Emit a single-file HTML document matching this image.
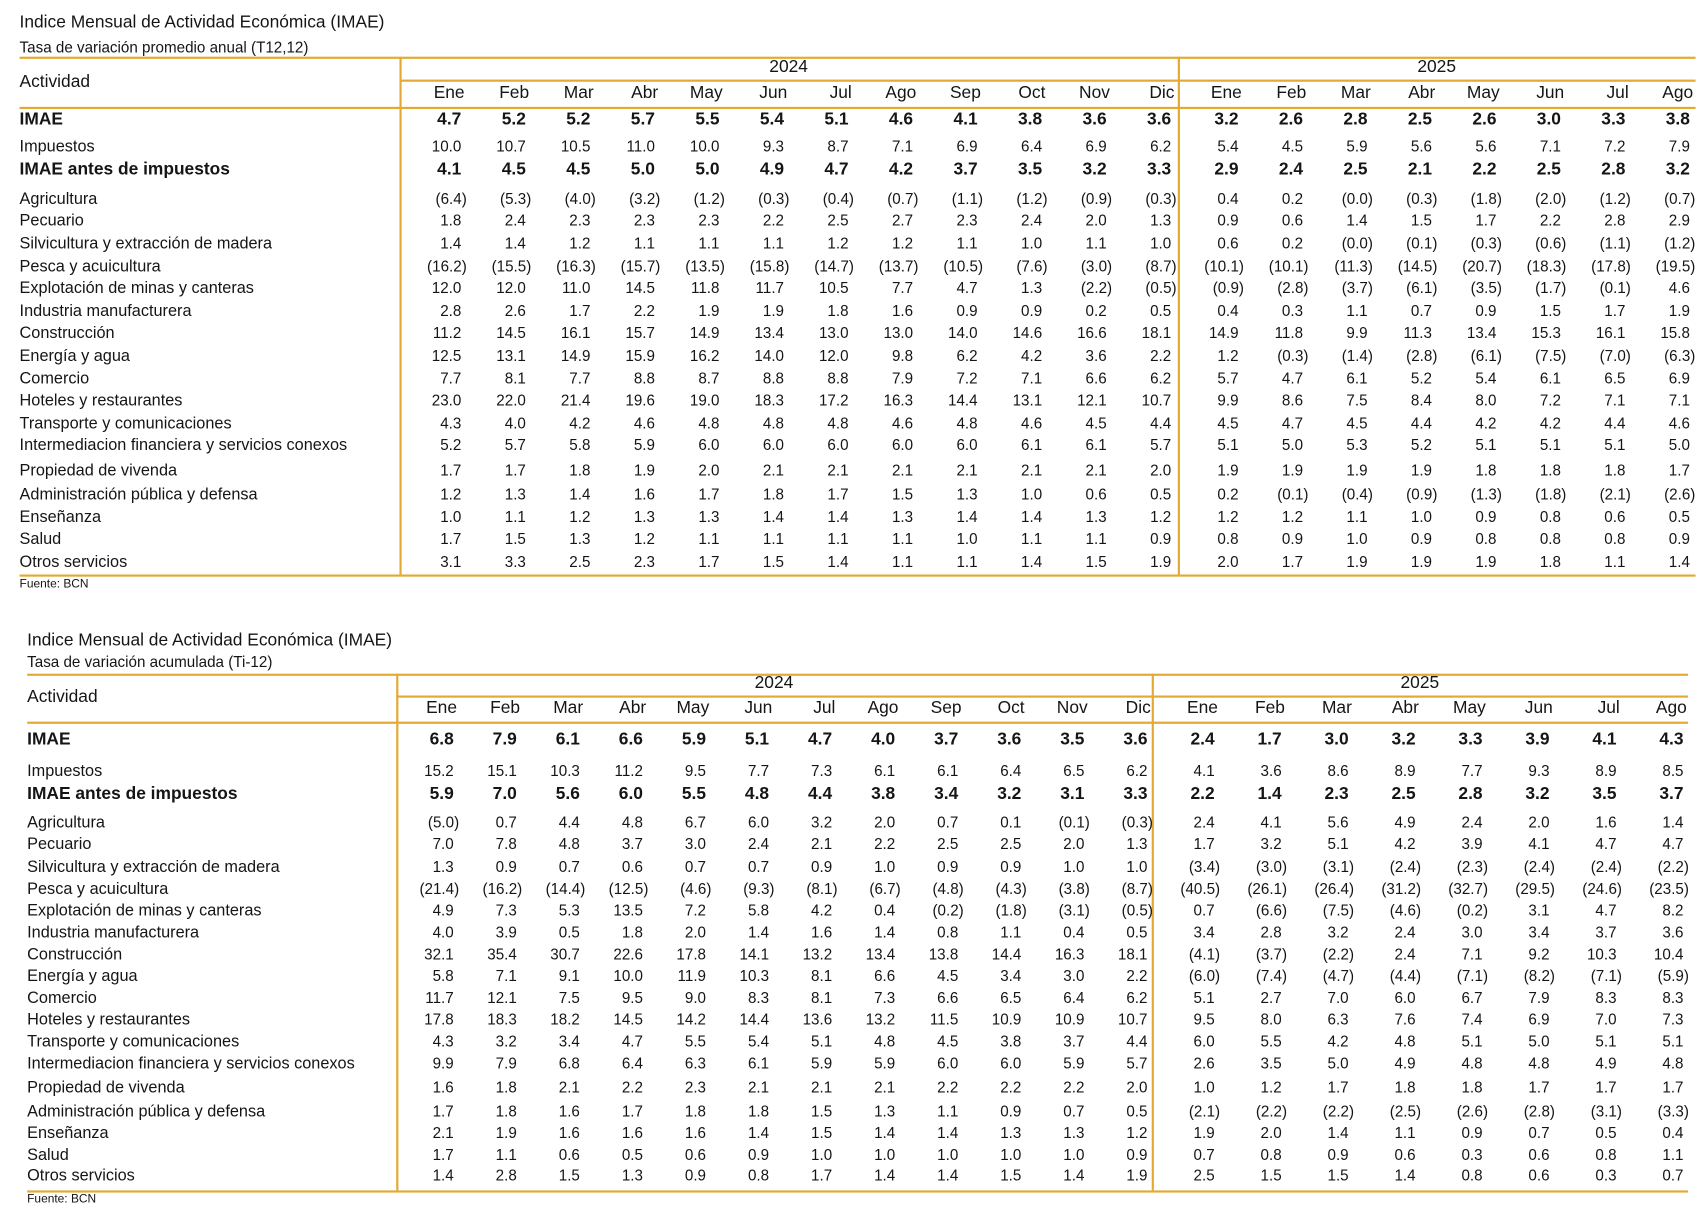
<!DOCTYPE html>
<html><head><meta charset="utf-8">
<style>
html,body{margin:0;padding:0;background:#fff;}
body{width:1702px;height:1210px;overflow:hidden;position:relative;}
#w{position:absolute;left:0;top:0;width:1568px;height:1110px;transform-origin:0 0;transform:scale(1.0855,1.0901);font-family:"Liberation Sans",sans-serif;color:#151515;}
.t{position:absolute;white-space:nowrap;line-height:1;}
.h{position:absolute;background:#E3AA33;height:1.5px;}
.v{position:absolute;background:#E3AA33;width:1.5px;}
</style></head><body><div id="w"></div>
<script>
var W=document.getElementById('w');
function T(txt,x,y,fs,opt){opt=opt||{};var d=document.createElement('div');d.className='t';d.textContent=txt;d.style.fontSize=fs+'px';d.style.top=(y-fs*0.55)+'px';
if(opt.r!==undefined){d.style.right=(1568-opt.r)+'px';}else if(opt.c!==undefined){d.style.left=(opt.c-200)+'px';d.style.width='400px';d.style.textAlign='center';}else d.style.left=x+'px';
if(opt.b)d.style.fontWeight='bold';W.appendChild(d);}
function H(x1,x2,y){var d=document.createElement('div');d.className='h';d.style.left=x1+'px';d.style.width=(x2-x1)+'px';d.style.top=y+'px';W.appendChild(d);}
function V(x,y1,y2){var d=document.createElement('div');d.className='v';d.style.left=x+'px';d.style.top=y1+'px';d.style.height=(y2-y1)+'px';W.appendChild(d);}
var labels=["IMAE","Impuestos","IMAE antes de impuestos","Agricultura","Pecuario","Silvicultura y extracción de madera","Pesca y acuicultura","Explotación de minas y canteras","Industria manufacturera","Construcción","Energía y agua","Comercio","Hoteles y restaurantes","Transporte y comunicaciones","Intermediacion financiera y servicios conexos","Propiedad de vivenda","Administración pública y defensa","Enseñanza","Salud","Otros servicios"];
var months=["Ene","Feb","Mar","Abr","May","Jun","Jul","Ago","Sep","Oct","Nov","Dic","Ene","Feb","Mar","Abr","May","Jun","Jul","Ago"];
var d1=`4.7 5.2 5.2 5.7 5.5 5.4 5.1 4.6 4.1 3.8 3.6 3.6 3.2 2.6 2.8 2.5 2.6 3.0 3.3 3.8
10.0 10.7 10.5 11.0 10.0 9.3 8.7 7.1 6.9 6.4 6.9 6.2 5.4 4.5 5.9 5.6 5.6 7.1 7.2 7.9
4.1 4.5 4.5 5.0 5.0 4.9 4.7 4.2 3.7 3.5 3.2 3.3 2.9 2.4 2.5 2.1 2.2 2.5 2.8 3.2
(6.4) (5.3) (4.0) (3.2) (1.2) (0.3) (0.4) (0.7) (1.1) (1.2) (0.9) (0.3) 0.4 0.2 (0.0) (0.3) (1.8) (2.0) (1.2) (0.7)
1.8 2.4 2.3 2.3 2.3 2.2 2.5 2.7 2.3 2.4 2.0 1.3 0.9 0.6 1.4 1.5 1.7 2.2 2.8 2.9
1.4 1.4 1.2 1.1 1.1 1.1 1.2 1.2 1.1 1.0 1.1 1.0 0.6 0.2 (0.0) (0.1) (0.3) (0.6) (1.1) (1.2)
(16.2) (15.5) (16.3) (15.7) (13.5) (15.8) (14.7) (13.7) (10.5) (7.6) (3.0) (8.7) (10.1) (10.1) (11.3) (14.5) (20.7) (18.3) (17.8) (19.5)
12.0 12.0 11.0 14.5 11.8 11.7 10.5 7.7 4.7 1.3 (2.2) (0.5) (0.9) (2.8) (3.7) (6.1) (3.5) (1.7) (0.1) 4.6
2.8 2.6 1.7 2.2 1.9 1.9 1.8 1.6 0.9 0.9 0.2 0.5 0.4 0.3 1.1 0.7 0.9 1.5 1.7 1.9
11.2 14.5 16.1 15.7 14.9 13.4 13.0 13.0 14.0 14.6 16.6 18.1 14.9 11.8 9.9 11.3 13.4 15.3 16.1 15.8
12.5 13.1 14.9 15.9 16.2 14.0 12.0 9.8 6.2 4.2 3.6 2.2 1.2 (0.3) (1.4) (2.8) (6.1) (7.5) (7.0) (6.3)
7.7 8.1 7.7 8.8 8.7 8.8 8.8 7.9 7.2 7.1 6.6 6.2 5.7 4.7 6.1 5.2 5.4 6.1 6.5 6.9
23.0 22.0 21.4 19.6 19.0 18.3 17.2 16.3 14.4 13.1 12.1 10.7 9.9 8.6 7.5 8.4 8.0 7.2 7.1 7.1
4.3 4.0 4.2 4.6 4.8 4.8 4.8 4.6 4.8 4.6 4.5 4.4 4.5 4.7 4.5 4.4 4.2 4.2 4.4 4.6
5.2 5.7 5.8 5.9 6.0 6.0 6.0 6.0 6.0 6.1 6.1 5.7 5.1 5.0 5.3 5.2 5.1 5.1 5.1 5.0
1.7 1.7 1.8 1.9 2.0 2.1 2.1 2.1 2.1 2.1 2.1 2.0 1.9 1.9 1.9 1.9 1.8 1.8 1.8 1.7
1.2 1.3 1.4 1.6 1.7 1.8 1.7 1.5 1.3 1.0 0.6 0.5 0.2 (0.1) (0.4) (0.9) (1.3) (1.8) (2.1) (2.6)
1.0 1.1 1.2 1.3 1.3 1.4 1.4 1.3 1.4 1.4 1.3 1.2 1.2 1.2 1.1 1.0 0.9 0.8 0.6 0.5
1.7 1.5 1.3 1.2 1.1 1.1 1.1 1.1 1.0 1.1 1.1 0.9 0.8 0.9 1.0 0.9 0.8 0.8 0.8 0.9
3.1 3.3 2.5 2.3 1.7 1.5 1.4 1.1 1.1 1.4 1.5 1.9 2.0 1.7 1.9 1.9 1.9 1.8 1.1 1.4`;
var d2=`6.8 7.9 6.1 6.6 5.9 5.1 4.7 4.0 3.7 3.6 3.5 3.6 2.4 1.7 3.0 3.2 3.3 3.9 4.1 4.3
15.2 15.1 10.3 11.2 9.5 7.7 7.3 6.1 6.1 6.4 6.5 6.2 4.1 3.6 8.6 8.9 7.7 9.3 8.9 8.5
5.9 7.0 5.6 6.0 5.5 4.8 4.4 3.8 3.4 3.2 3.1 3.3 2.2 1.4 2.3 2.5 2.8 3.2 3.5 3.7
(5.0) 0.7 4.4 4.8 6.7 6.0 3.2 2.0 0.7 0.1 (0.1) (0.3) 2.4 4.1 5.6 4.9 2.4 2.0 1.6 1.4
7.0 7.8 4.8 3.7 3.0 2.4 2.1 2.2 2.5 2.5 2.0 1.3 1.7 3.2 5.1 4.2 3.9 4.1 4.7 4.7
1.3 0.9 0.7 0.6 0.7 0.7 0.9 1.0 0.9 0.9 1.0 1.0 (3.4) (3.0) (3.1) (2.4) (2.3) (2.4) (2.4) (2.2)
(21.4) (16.2) (14.4) (12.5) (4.6) (9.3) (8.1) (6.7) (4.8) (4.3) (3.8) (8.7) (40.5) (26.1) (26.4) (31.2) (32.7) (29.5) (24.6) (23.5)
4.9 7.3 5.3 13.5 7.2 5.8 4.2 0.4 (0.2) (1.8) (3.1) (0.5) 0.7 (6.6) (7.5) (4.6) (0.2) 3.1 4.7 8.2
4.0 3.9 0.5 1.8 2.0 1.4 1.6 1.4 0.8 1.1 0.4 0.5 3.4 2.8 3.2 2.4 3.0 3.4 3.7 3.6
32.1 35.4 30.7 22.6 17.8 14.1 13.2 13.4 13.8 14.4 16.3 18.1 (4.1) (3.7) (2.2) 2.4 7.1 9.2 10.3 10.4
5.8 7.1 9.1 10.0 11.9 10.3 8.1 6.6 4.5 3.4 3.0 2.2 (6.0) (7.4) (4.7) (4.4) (7.1) (8.2) (7.1) (5.9)
11.7 12.1 7.5 9.5 9.0 8.3 8.1 7.3 6.6 6.5 6.4 6.2 5.1 2.7 7.0 6.0 6.7 7.9 8.3 8.3
17.8 18.3 18.2 14.5 14.2 14.4 13.6 13.2 11.5 10.9 10.9 10.7 9.5 8.0 6.3 7.6 7.4 6.9 7.0 7.3
4.3 3.2 3.4 4.7 5.5 5.4 5.1 4.8 4.5 3.8 3.7 4.4 6.0 5.5 4.2 4.8 5.1 5.0 5.1 5.1
9.9 7.9 6.8 6.4 6.3 6.1 5.9 5.9 6.0 6.0 5.9 5.7 2.6 3.5 5.0 4.9 4.8 4.8 4.9 4.8
1.6 1.8 2.1 2.2 2.3 2.1 2.1 2.1 2.2 2.2 2.2 2.0 1.0 1.2 1.7 1.8 1.8 1.7 1.7 1.7
1.7 1.8 1.6 1.7 1.8 1.8 1.5 1.3 1.1 0.9 0.7 0.5 (2.1) (2.2) (2.2) (2.5) (2.6) (2.8) (3.1) (3.3)
2.1 1.9 1.6 1.6 1.6 1.4 1.5 1.4 1.4 1.3 1.3 1.2 1.9 2.0 1.4 1.1 0.9 0.7 0.5 0.4
1.7 1.1 0.6 0.5 0.6 0.9 1.0 1.0 1.0 1.0 1.0 0.9 0.7 0.8 0.9 0.6 0.3 0.6 0.8 1.1
1.4 2.8 1.5 1.3 0.9 0.8 1.7 1.4 1.4 1.5 1.4 1.9 2.5 1.5 1.5 1.4 0.8 0.6 0.3 0.7`;
function table(c){
 T("Indice Mensual de Actividad Económica (IMAE)",c.x,c.ty,16);
 T(c.sub,c.x,c.sy,14);
 H(c.x,c.xe,c.top);V(c.sep,c.top,c.bot);V(c.ysep,c.top,c.bot);
 H(c.sep,c.xe,c.yl);H(c.x,c.xe,c.ml);H(c.x,c.xe,c.bot);
 T("Actividad",c.x,c.act,16,{b:0});
 T("2024",0,c.yr,16,{c:(c.sep+c.ysep)/2});T("2025",0,c.yr,16,{c:(c.ysep+c.xe)/2});
 var rows=c.data.split("\n").map(function(s){return s.trim().split(/\s+/);});
 for(var j=0;j<20;j++){T(months[j],0,c.my,16,{r:c.cols[j]+3});}
 for(var i=0;i<20;i++){
  var bold=(i==0||i==2);
  T(labels[i],c.x,c.rows[i]+(bold?0:1),bold?16:15,{b:bold});
  for(var j=0;j<20;j++){var v=rows[i][j];var neg=v[0]=='(';
   T(v,0,c.rows[i]+(bold?0:1),bold?16:14,{r:c.cols[j]+(neg?5:0),b:bold});}
 }
 T("Fuente: BCN",c.x,c.fy,11);
}
function cols(a,sa,b,sb){var r=[];for(var i=0;i<12;i++)r.push(a+i*sa);for(var i=0;i<8;i++)r.push(b+i*sb);return r;}
table({x:18,xe:1562,ty:22,sy:44,sub:"Tasa de variación promedio anual (T12,12)",top:52,sep:368,ysep:1085,yl:73,ml:98,bot:527,act:77,yr:63,my:87,fy:537,
 rows:[111,134,157,182,202,223,244,264,285,305,326,347,367,388,408,431,453,474,494,515],
 cols:cols(425,59.45,1141,59.4),data:d1});
table({x:25,xe:1555,ty:589,sy:608,sub:"Tasa de variación acumulada (Ti-12)",top:618,sep:365,ysep:1061,yl:638,ml:662,bot:1092,act:641,yr:628,my:651,fy:1101,
 rows:[680,707,730,754,774,795,815,835,855,875,895,915,935,955,975,997,1019,1039,1059,1078],
 cols:cols(418,58.1,1119,61.7),data:d2});
</script></body></html>
